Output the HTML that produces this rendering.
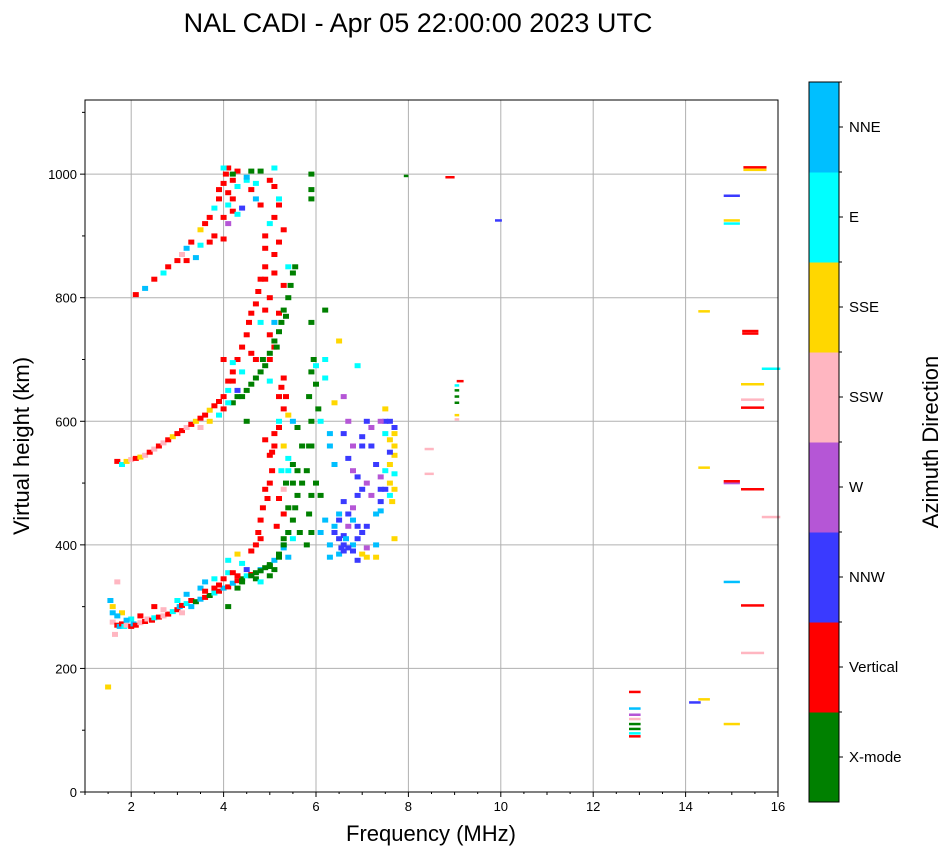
<!DOCTYPE html>
<html><head><meta charset="utf-8">
<style>
html,body{margin:0;padding:0;background:#fff;}
svg{display:block;font-family:"Liberation Sans","DejaVu Sans",sans-serif;}
</style></head>
<body>
<svg id="chart" width="951" height="856" viewBox="0 0 951 856">
<text x="418" y="32" font-size="27" text-anchor="middle">NAL CADI - Apr 05 22:00:00 2023 UTC</text>
<g id="grid"></g>
<g id="marks"></g>
<rect x="85" y="100" width="693" height="692" fill="none" stroke="#000" stroke-width="1"/>
<g id="axes"></g>
<text x="431" y="841" font-size="22" text-anchor="middle">Frequency (MHz)</text>
<text transform="translate(29,446) rotate(-90)" font-size="22" text-anchor="middle">Virtual height (km)</text>
<g id="cbar"></g>
<text transform="translate(938,442) rotate(-90)" font-size="22" text-anchor="middle">Azimuth Direction</text>
</svg>
<script>
const directionLabels=["X-mode","Vertical","NNW","W","SSW","SSE","E","NNE"];
const directionColors=["#008000","#ff0000","#3a3aff","#b556d6","#ffb6c1","#ffd700","#00ffff","#00bfff"];
const xTicks=[2,4,6,8,10,12,14,16];
const yTicks=[0,200,400,600,800,1000];
// [freq MHz, height km, direction index]
const traceLow=[[1.5,170,5],[1.55,310,7],[1.6,300,5],[1.6,275,4],[1.7,270,1],[1.75,268,7],[1.8,272,1],[1.85,268,6],[1.9,270,4],[2.0,268,1],[2.05,272,7],[2.1,270,1],[2.2,274,4],[2.3,276,1],[2.35,280,4],[2.45,278,1],[2.5,282,6],[2.6,283,1],[2.7,285,4],[2.8,288,1],[2.9,292,6],[3.0,295,1],[3.05,300,7],[3.1,302,1],[3.2,305,6],[3.3,310,1],[3.4,308,0],[3.5,312,7],[3.6,315,1],[3.7,318,0],[3.8,322,6],[3.9,325,1],[4.0,330,7],[4.1,332,1],[4.2,338,7],[4.3,342,1],[4.4,345,0],[4.5,350,6],[4.6,352,1],[4.7,355,0],[4.8,360,7],[4.9,363,0],[5.0,368,0],[5.1,375,7],[5.2,385,0],[5.3,395,7],[5.4,380,7],[1.6,290,7],[1.8,290,5],[2.5,300,1],[3.0,310,6],[3.2,320,7],[3.5,330,7],[3.6,340,7],[3.8,345,6],[3.9,335,1],[4.0,345,1],[4.1,355,6],[4.2,355,1],[4.4,370,6],[4.3,385,5],[4.1,375,6],[4.5,360,2],[4.7,345,0],[4.8,340,6],[5.0,350,0],[5.1,360,0],[5.3,400,7],[5.4,420,7],[5.5,410,6],[3.3,300,7],[3.1,290,4],[2.7,295,4],[2.0,280,6],[1.7,285,7],[3.6,325,1],[3.8,330,1],[4.3,350,1],[2.2,285,1],[1.9,278,7],[1.65,255,4],[1.7,340,4]];
const traceVertical=[[4.6,390,1],[4.7,400,1],[4.75,420,1],[4.8,440,1],[4.85,460,1],[4.95,475,1],[5.0,500,1],[5.05,520,1],[4.9,490,1],[5.0,545,1],[5.1,560,1],[5.1,580,1],[5.2,590,1],[5.2,600,6],[5.3,620,1],[5.35,640,1],[5.25,655,1],[5.3,670,1],[5.0,665,6],[4.9,570,1],[5.3,560,5],[5.4,520,6],[5.2,475,1],[5.3,450,1],[5.15,430,1],[5.35,500,0],[5.3,490,4],[5.4,540,6],[5.5,600,7],[5.4,610,5],[5.0,700,1],[5.1,720,1],[5.0,740,1],[5.1,760,7],[5.2,775,1],[5.0,800,1],[4.9,830,1],[5.1,840,1],[5.3,820,1],[4.9,880,1],[5.1,870,1],[5.2,890,1],[5.3,910,1],[4.9,900,1],[5.1,930,1],[5.2,950,1],[5.1,980,1],[4.8,950,1],[4.7,960,7],[4.6,975,1],[4.5,990,6],[4.6,1005,0],[5.0,990,1],[5.2,960,6],[5.4,850,6],[5.0,920,6],[4.8,410,1],[5.05,550,1],[5.2,640,1],[5.25,520,6]];
const traceXmode=[[4.3,330,0],[4.4,340,0],[4.6,350,0],[4.8,358,0],[5.0,365,0],[5.2,380,0],[5.3,400,0],[5.4,420,0],[5.5,440,0],[5.55,460,0],[5.6,480,0],[5.7,500,0],[5.5,500,0],[5.6,520,0],[5.4,460,0],[5.3,410,0],[5.8,400,0],[5.9,420,0],[5.85,450,0],[5.9,480,0],[5.8,520,0],[5.85,560,0],[5.9,600,0],[5.85,640,0],[5.9,680,0],[5.95,700,0],[5.9,560,0],[6.05,620,0],[6.0,660,0],[5.7,560,0],[5.6,590,0],[5.9,760,0],[5.9,960,0],[5.9,975,0],[5.9,1000,0],[6.0,500,0],[6.1,480,0],[5.5,530,0],[4.2,630,0],[4.4,640,0],[4.5,650,0],[4.6,660,0],[4.7,670,0],[4.8,680,0],[4.85,700,0],[4.9,690,0],[5.0,710,0],[5.1,730,0],[5.2,745,0],[5.25,760,0],[5.3,780,0],[5.4,800,0],[5.45,820,0],[5.5,840,0],[5.55,850,0],[5.35,770,0],[5.15,720,0],[4.5,600,0],[4.3,640,0],[4.1,300,0],[5.65,420,0]];
const traceSecondHop=[[1.7,535,1],[1.8,530,6],[1.9,535,5],[2.0,538,4],[2.1,540,1],[2.2,542,5],[2.3,545,4],[2.4,550,1],[2.5,555,4],[2.6,560,1],[2.7,565,4],[2.8,570,1],[2.9,575,5],[3.0,580,1],[3.1,585,1],[3.2,590,4],[3.3,595,1],[3.4,600,5],[3.5,605,1],[3.6,610,1],[3.7,618,5],[3.8,625,1],[3.9,632,1],[4.0,640,1],[4.1,650,6],[4.2,665,1],[4.2,680,1],[4.3,700,1],[4.4,720,1],[4.5,740,1],[4.55,760,1],[4.6,775,1],[4.7,790,1],[4.75,810,1],[4.8,830,1],[4.9,850,1],[3.5,590,4],[3.7,600,5],[3.9,610,6],[4.0,620,1],[4.1,630,6],[4.3,650,2],[4.1,665,1],[4.2,695,6],[4.0,700,1],[4.4,680,6],[4.6,710,1],[4.7,700,1],[4.9,780,1],[4.8,760,6]];
const traceThirdHop=[[2.1,805,1],[2.3,815,7],[2.5,830,1],[2.7,840,6],[2.8,850,1],[3.0,860,1],[3.1,870,4],[3.2,880,7],[3.3,890,1],[3.5,910,5],[3.6,920,1],[3.7,930,1],[3.8,945,6],[3.9,960,1],[3.9,975,1],[4.0,985,1],[4.05,1000,1],[4.1,1010,1],[4.2,990,1],[4.3,980,6],[4.2,960,1],[4.1,950,6],[4.0,930,1],[4.1,920,3],[3.8,900,1],[4.0,895,1],[3.4,865,7],[3.7,890,1],[4.2,940,1],[4.3,935,6],[4.4,945,2],[4.1,970,1],[3.5,885,6],[3.2,860,1],[4.0,1010,6],[4.3,1005,1],[4.5,995,7],[4.7,985,6],[4.2,1000,0],[4.8,1005,0],[5.1,1010,6]];
const traceOblique=[[6.3,380,7],[6.5,385,7],[6.6,390,2],[6.6,400,2],[6.5,410,2],[6.4,420,2],[6.4,430,7],[6.5,440,2],[6.7,450,2],[6.8,460,3],[6.6,470,2],[6.9,480,2],[7.0,490,2],[7.1,500,3],[6.9,510,2],[6.8,520,3],[6.7,540,2],[6.8,560,3],[7.0,575,2],[7.2,560,2],[7.3,530,2],[7.4,510,3],[7.5,490,2],[7.4,470,2],[7.3,450,7],[7.1,430,2],[7.0,420,2],[6.9,410,2],[6.8,400,7],[6.8,390,2],[7.0,385,5],[6.9,375,2],[7.1,395,3],[6.7,430,3],[6.8,440,7],[6.5,450,7],[6.2,440,7],[6.1,420,7],[6.3,400,7],[6.6,415,2],[6.7,395,2],[6.9,430,2],[7.2,480,3],[7.3,400,7],[6.7,600,3],[7.0,560,2],[7.1,600,2],[7.2,590,3],[7.5,600,2],[6.6,640,3],[6.4,630,5],[6.9,690,6],[6.5,730,5],[6.2,700,6],[6.2,780,0],[6.0,690,6],[6.2,670,6],[6.1,600,6],[6.3,580,7],[6.6,580,2],[6.3,560,7],[6.4,530,7],[7.6,600,2],[7.7,590,2],[7.7,580,5],[7.6,570,5],[7.7,560,5],[7.7,545,5],[7.6,530,5],[7.7,515,6],[7.6,500,5],[7.7,490,5],[7.6,480,6],[7.65,470,5],[7.5,580,6],[7.4,600,3],[7.6,550,2],[7.5,520,6],[7.4,490,2],[7.5,620,5],[7.7,410,5],[7.3,380,5],[7.1,380,5],[7.4,455,7],[6.55,395,2],[6.65,410,7]];
// [freq MHz, height km, direction index, width MHz]
const isolatedEchoes=[[7.95,997,0,0.1],[8.9,995,1,0.2],[9.95,925,2,0.15],[8.45,555,4,0.2],[8.45,515,4,0.2],[9.12,665,1,0.15],[9.05,658,6,0.1],[9.05,650,0,0.1],[9.05,640,0,0.1],[9.05,630,0,0.1],[9.05,610,5,0.1],[9.05,603,4,0.1],[12.9,162,1,0.25],[12.9,135,7,0.25],[12.9,125,3,0.25],[12.9,118,4,0.25],[12.9,110,0,0.25],[12.9,102,0,0.25],[12.9,95,6,0.25],[12.9,90,1,0.25],[14.2,145,2,0.25],[14.4,150,5,0.25],[14.4,525,5,0.25],[14.4,778,5,0.25],[15.0,110,5,0.35],[15.0,340,7,0.35],[15.0,500,3,0.35],[15.0,503,1,0.35],[15.0,920,6,0.35],[15.0,925,5,0.35],[15.0,965,2,0.35],[15.5,1011,1,0.5],[15.5,1007,5,0.5],[15.4,742,1,0.35],[15.4,746,1,0.35],[15.45,660,5,0.5],[15.45,635,4,0.5],[15.45,622,1,0.5],[15.45,490,1,0.5],[15.45,302,1,0.5],[15.45,225,4,0.5],[15.85,685,6,0.4],[15.85,445,4,0.4]];

const NS="http://www.w3.org/2000/svg";
const X0=85,X1=778,Y0=792,Y1=100,FMIN=1,FMAX=16,HMIN=0,HMAX=1120;
function xScale(f){return X0+(f-FMIN)/(FMAX-FMIN)*(X1-X0);}
function yScale(h){return Y0-(h-HMIN)/(HMAX-HMIN)*(Y0-Y1);}
function mk(tag,attrs,parent){const e=document.createElementNS(NS,tag);for(const k in attrs)e.setAttribute(k,attrs[k]);parent.appendChild(e);return e;}

const grid=document.getElementById('grid'),axes=document.getElementById('axes'),marks=document.getElementById('marks'),cbar=document.getElementById('cbar');
xTicks.forEach(t=>{
  const x=xScale(t);
  const g=mk('line',{x1:x,x2:x,y1:Y1,y2:Y0,stroke:'#b0b0b0','stroke-width':1},grid);
  
  
  mk('line',{x1:x,x2:x,y1:Y0,y2:Y0+5,stroke:'#000'},axes);
  const tx=mk('text',{x:x,y:Y0+19,'font-size':13,'text-anchor':'middle'},axes);
  tx.textContent=t;
  
  
});
for(let f=1;f<=15;f+=2){const x=xScale(f);mk('line',{x1:x,x2:x,y1:Y0,y2:Y0+3,stroke:'#000'},axes);}
for(let f=1.5;f<16;f+=1){const x=xScale(f);mk('line',{x1:x,x2:x,y1:Y0,y2:Y0+2,stroke:'#000'},axes);}
yTicks.forEach(t=>{
  const y=yScale(t);
  if(t>0){const g=mk('line',{x1:X0,x2:X1,y1:y,y2:y,stroke:'#b0b0b0','stroke-width':1},grid);
  
  }
  mk('line',{x1:X0-5,x2:X0,y1:y,y2:y,stroke:'#000'},axes);
  const tx=mk('text',{x:X0-8,y:y+5,'font-size':13,'text-anchor':'end'},axes);
  tx.textContent=t;
  
  
});
for(let h=100;h<=1100;h+=200){const y=yScale(h);mk('line',{x1:X0-3,x2:X0,y1:y,y2:y,stroke:'#000'},axes);}

function drawEcho(p,w,hgt){
  const x=xScale(p[0]),y=yScale(p[1]);
  const r=mk('rect',{x:(x-w/2).toFixed(1),y:(y-hgt/2).toFixed(1),width:w.toFixed(1),height:hgt,fill:directionColors[p[2]]},marks);
  
  
}
[traceLow,traceVertical,traceXmode,traceSecondHop,traceThirdHop,traceOblique].forEach(tr=>tr.forEach(p=>drawEcho(p,6,5)));
isolatedEchoes.forEach(p=>{const w=p[3]/(FMAX-FMIN)*(X1-X0);drawEcho(p,w,2.5);});

// colorbar
const CB_X=809,CB_W=30,CB_TOP=82,CB_BOT=802,seg=(CB_BOT-CB_TOP)/directionLabels.length;
directionLabels.forEach((lab,i)=>{
  const yb=CB_BOT-(i+1)*seg;
  const r=mk('rect',{x:CB_X,y:yb,width:CB_W,height:seg+0.5,fill:directionColors[i]},cbar);
  
  
  const yc=yb+seg/2;
  mk('line',{x1:CB_X+CB_W,x2:CB_X+CB_W+4,y1:yc,y2:yc,stroke:'#000'},cbar);
  mk('line',{x1:CB_X+CB_W,x2:CB_X+CB_W+3,y1:yb,y2:yb,stroke:'#000'},cbar);
  const t=mk('text',{x:CB_X+CB_W+10,y:yc+5,'font-size':15},cbar);
  t.textContent=lab;
  
  
});
mk('rect',{x:CB_X,y:CB_TOP,width:CB_W,height:CB_BOT-CB_TOP,fill:'none',stroke:'#000'},cbar);
</script>
</body></html>
